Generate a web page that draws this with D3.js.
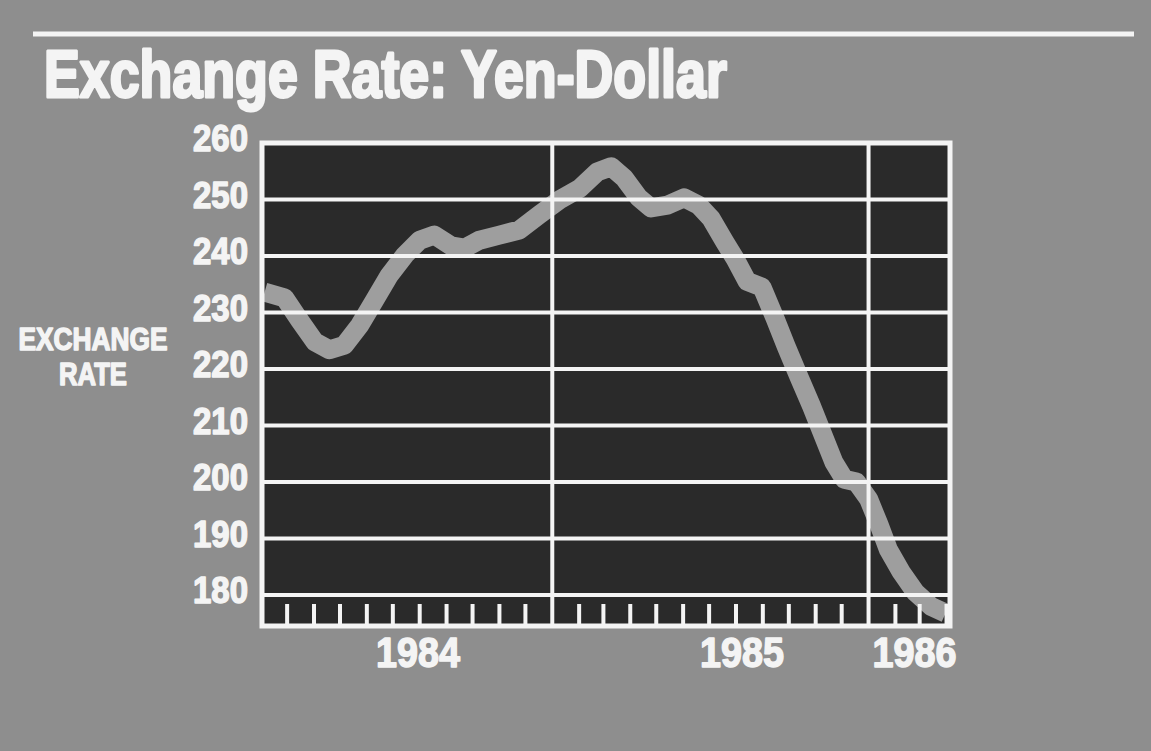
<!DOCTYPE html>
<html>
<head>
<meta charset="utf-8">
<script src="https://cdn.jsdelivr.net/npm/d3@7"></script>
<style>
  html, body { margin: 0; padding: 0; background: #8e8e8e; }
  svg { display: block; }
</style>
</head>
<body>
<svg id="chart" width="1151" height="751"></svg>
<script>
// ---- data ----
const titleText = "Exchange Rate: Yen-Dollar";
const axisTitleLines = ["EXCHANGE", "RATE"];
const yTickValues = [180, 190, 200, 210, 220, 230, 240, 250, 260];
const yearLabels = ["1984", "1985", "1986"];
const yearLabelDates = ["1984-07-30", "1985-08-08", "1986-02-23"];

// yen per dollar, Feb 1984 – Mar 1986
const rateDates = [
  "1984-02-04", "1984-02-27", "1984-03-15", "1984-04-02", "1984-04-19", "1984-05-06",
  "1984-05-24", "1984-06-10", "1984-06-27", "1984-07-15", "1984-08-01", "1984-08-18",
  "1984-09-06", "1984-09-22", "1984-10-09", "1984-11-01", "1984-11-24", "1984-12-17",
  "1985-01-09", "1985-02-02", "1985-02-22", "1985-03-10", "1985-03-25", "1985-04-11",
  "1985-04-25", "1985-05-14", "1985-06-02", "1985-06-19", "1985-07-03", "1985-07-19",
  "1985-07-31", "1985-08-14", "1985-08-31", "1985-09-15", "1985-09-28", "1985-10-13",
  "1985-10-27", "1985-11-09", "1985-11-22", "1985-12-04", "1985-12-18", "1986-01-01",
  "1986-01-13", "1986-01-24", "1986-02-08", "1986-02-24", "1986-03-14", "1986-03-31"
];
const rateValues = [
  233.6, 232.6, 228.7, 224.8, 223.4, 224.2,
  227.8, 232.2, 236.6, 240.2, 242.8, 243.7,
  241.8, 241.4, 242.8, 243.7, 244.6, 247.3,
  249.9, 252.0, 254.9, 255.8, 253.8, 250.3,
  248.5, 249.0, 250.3, 249.0, 246.7, 242.5,
  239.5, 235.5, 234.5, 229.0, 224.0, 218.5,
  213.5, 208.5, 203.5, 200.5, 200.0, 197.0,
  192.5, 188.0, 184.0, 180.5, 178.0, 176.8
];

// ---- layout ----
const W = 1151, H = 751;
const plot = { left: 262, right: 950, top: 143, bottom: 626 };
const colors = {
  page: "#8e8e8e",
  plot: "#2a2a2a",
  line: "#9e9e9e",
  ink: "#f4f4f4"
};
const font = "'Liberation Sans', Arial, Helvetica, sans-serif";

// squeeze each text horizontally to a given width, keeping its anchor point fixed
function fitWidth(selection, widthOf) {
  selection.each(function (d, i) {
    const natural = this.getComputedTextLength();
    const target = typeof widthOf === "function" ? widthOf(d, i) : widthOf;
    const s = target / natural;
    const ax = +this.getAttribute("x") || 0;
    d3.select(this).attr("transform", `translate(${ax},0) scale(${s},1) translate(${-ax},0)`);
  });
}

const parse = d3.timeParse("%Y-%m-%d");
const series = rateDates.map((d, i) => ({ date: parse(d), value: rateValues[i] }));

const x = d3.scaleTime()
  .domain([new Date(1984, 1, 1), new Date(1986, 3, 5)])
  .range([plot.left, plot.right]);
const y = d3.scaleLinear()
  .domain([180, 260])
  .range([595, plot.top]);

const svg = d3.select("#chart");

svg.append("rect").attr("width", W).attr("height", H).attr("fill", colors.page);

// title rule and title
svg.append("line")
  .attr("x1", 33).attr("x2", 1134).attr("y1", 34).attr("y2", 34)
  .attr("stroke", colors.ink).attr("stroke-width", 5);

svg.append("text")
  .attr("x", 44).attr("y", 97)
  .attr("font-family", font).attr("font-weight", "bold").attr("font-size", 66)
  .attr("fill", colors.ink).attr("stroke", colors.ink).attr("stroke-width", 3)
  .attr("stroke-linejoin", "round")
  .text(titleText)
  .call(fitWidth, 683);

// plot background
svg.append("rect")
  .attr("x", plot.left).attr("y", plot.top)
  .attr("width", plot.right - plot.left).attr("height", plot.bottom - plot.top)
  .attr("fill", colors.plot);

// rate line (drawn beneath the grid)
const line = d3.line()
  .x(d => x(d.date))
  .y(d => y(d.value))
  .curve(d3.curveLinear);

svg.append("path")
  .datum(series)
  .attr("d", line)
  .attr("fill", "none")
  .attr("stroke", colors.line)
  .attr("stroke-width", 19)
  .attr("stroke-linejoin", "round")
  .attr("stroke-linecap", "butt");

// horizontal gridlines
svg.append("g")
  .selectAll("line")
  .data(yTickValues.filter(v => v < 260))
  .join("line")
  .attr("x1", plot.left).attr("x2", plot.right)
  .attr("y1", d => y(d)).attr("y2", d => y(d))
  .attr("stroke", colors.ink).attr("stroke-width", 4);

// year dividers
svg.append("g")
  .selectAll("line")
  .data([new Date(1985, 0, 1), new Date(1986, 0, 1)])
  .join("line")
  .attr("x1", d => x(d)).attr("x2", d => x(d))
  .attr("y1", plot.top).attr("y2", plot.bottom)
  .attr("stroke", colors.ink).attr("stroke-width", 4);

// month ticks along the bottom band
const months = d3.timeMonth.range(new Date(1984, 2, 1), new Date(1986, 3, 5))
  .filter(d => d.getMonth() !== 0);
svg.append("g")
  .selectAll("line")
  .data(months)
  .join("line")
  .attr("x1", d => x(d)).attr("x2", d => x(d))
  .attr("y1", 604).attr("y2", 624)
  .attr("stroke", colors.ink).attr("stroke-width", 4);

// frame
svg.append("rect")
  .attr("x", plot.left).attr("y", plot.top)
  .attr("width", plot.right - plot.left).attr("height", plot.bottom - plot.top)
  .attr("fill", "none").attr("stroke", colors.ink).attr("stroke-width", 5);

// y tick labels
const yAxis = d3.axisLeft(y).tickValues(yTickValues).tickSize(0).tickPadding(14).tickFormat(d3.format("d"));
const yAxisG = svg.append("g")
  .attr("transform", `translate(${plot.left},0)`)
  .call(yAxis);
yAxisG.select(".domain").remove();
yAxisG.selectAll("text")
  .attr("dy", "0.32em")
  .attr("y", -4)
  .attr("font-family", font).attr("font-weight", "bold").attr("font-size", 37)
  .attr("fill", colors.ink).attr("stroke", colors.ink).attr("stroke-width", 1.5)
  .attr("stroke-linejoin", "round")
  .call(fitWidth, 55);

// axis title
svg.append("g")
  .selectAll("text")
  .data(axisTitleLines)
  .join("text")
  .attr("x", 93)
  .attr("y", (d, i) => 350 + i * 35)
  .attr("text-anchor", "middle")
  .attr("font-family", font).attr("font-weight", "bold").attr("font-size", 31)
  .attr("fill", colors.ink).attr("stroke", colors.ink).attr("stroke-width", 1.5)
  .attr("stroke-linejoin", "round")
  .text(d => d)
  .call(fitWidth, (d, i) => i === 0 ? 149 : 68);

// year labels
svg.append("g")
  .selectAll("text")
  .data(yearLabels)
  .join("text")
  .attr("x", (d, i) => x(parse(yearLabelDates[i])))
  .attr("y", 667)
  .attr("text-anchor", "middle")
  .attr("font-family", font).attr("font-weight", "bold").attr("font-size", 42)
  .attr("fill", colors.ink).attr("stroke", colors.ink).attr("stroke-width", 1.5)
  .attr("stroke-linejoin", "round")
  .text(d => d)
  .call(fitWidth, 84);
</script>
</body>
</html>
